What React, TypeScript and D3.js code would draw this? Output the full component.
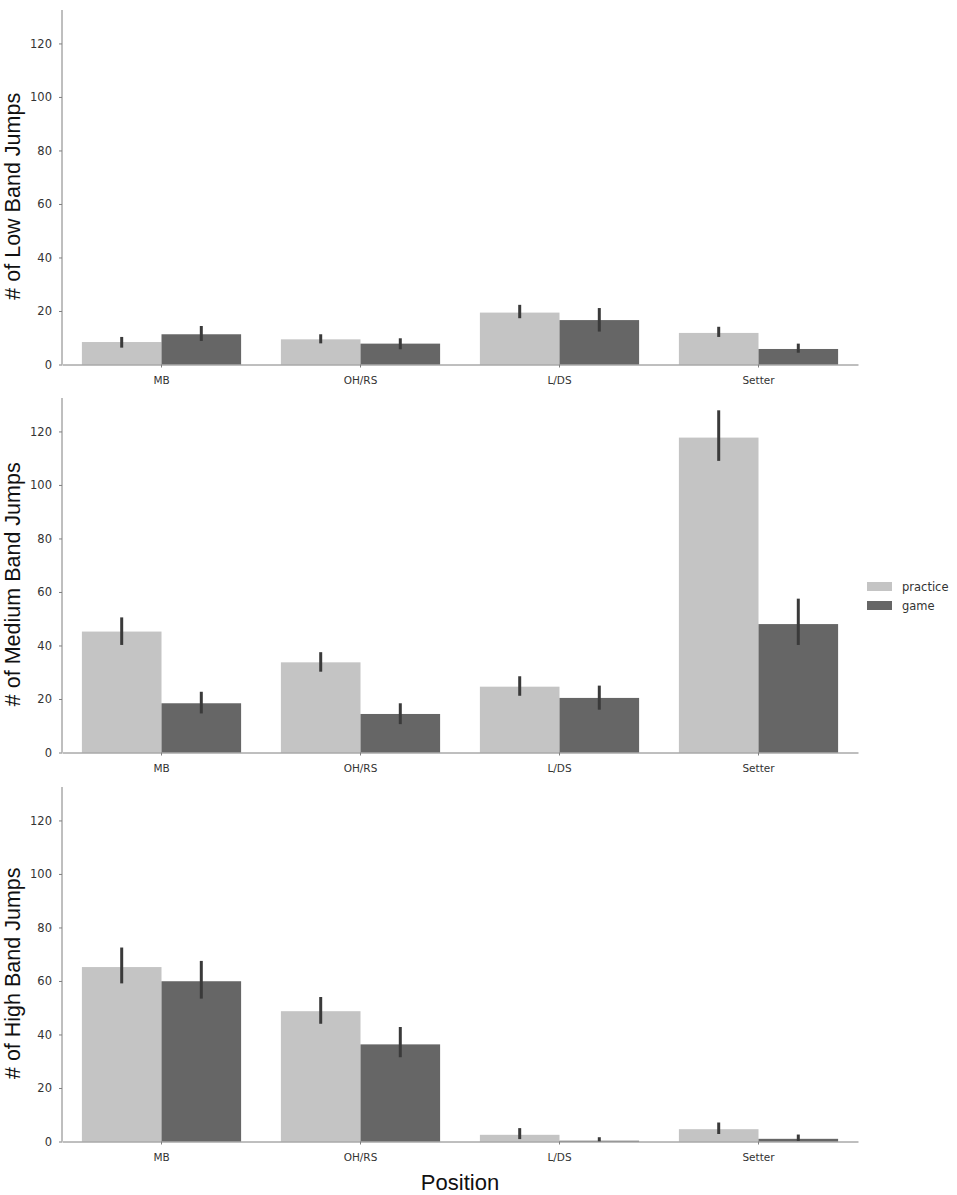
import { useEffect, useRef } from 'react';
import * as d3 from 'd3';

const positions = ['MB', 'OH/RS', 'L/DS', 'Setter'];
const hues = ['practice', 'game'];
const hueColors = ['#c4c4c4', '#666666'];
const yTicks = [0, 20, 40, 60, 80, 100, 120];

const lowPractice = [8.4, 9.4, 19.4, 11.8];
const lowGame = [11.3, 7.8, 16.6, 5.8];
const lowPracticeErr: [number, number][] = [[6.3, 10.3], [7.9, 11.3], [17.3, 22.3], [10.3, 14.1]];
const lowGameErr: [number, number][] = [[8.8, 14.4], [5.7, 9.8], [12.3, 21.1], [4.4, 7.8]];

const medPractice = [45.2, 33.7, 24.6, 117.7];
const medGame = [18.4, 14.4, 20.4, 48.0];
const medPracticeErr: [number, number][] = [[40.2, 50.5], [30.2, 37.5], [21.2, 28.5], [109.0, 127.9]];
const medGameErr: [number, number][] = [[14.6, 22.7], [10.6, 18.4], [16.0, 25.0], [40.2, 57.5]];

const highPractice = [65.2, 48.7, 2.5, 4.6];
const highGame = [59.9, 36.3, 0.3, 1.0];
const highPracticeErr: [number, number][] = [[59.1, 72.5], [44.0, 54.0], [0.9, 5.0], [2.8, 7.1]];
const highGameErr: [number, number][] = [[53.4, 67.5], [31.5, 42.8], [0, 1.6], [0.2, 2.6]];

const panels = [
  { label: '# of Low Band Jumps', top: 10, values: [lowPractice, lowGame], errs: [lowPracticeErr, lowGameErr] },
  { label: '# of Medium Band Jumps', top: 398, values: [medPractice, medGame], errs: [medPracticeErr, medGameErr] },
  { label: '# of High Band Jumps', top: 787, values: [highPractice, highGame], errs: [highPracticeErr, highGameErr] },
];

const WIDTH = 957;
const HEIGHT = 1195;

const App = () => {
  const svgRef = useRef<SVGSVGElement>(null);

  useEffect(() => {
    if (!svgRef.current) return;
    const svg = d3.select(svgRef.current);
    svg.selectAll('*').remove();

    const left = 62;
    const right = 858;
    const plotH = 354.5;
    const axisColor = '#7f7f7f';
    const tickFont = 'DejaVu Sans, sans-serif';

    const x = d3.scaleBand<string>().domain(positions).range([left, right]);
    const inner = d3.scaleBand<string>().domain(hues).range([0, x.bandwidth() * 0.8]);

    panels.forEach(p => {
      const y = d3.scaleLinear().domain([0, 132.5]).range([p.top + plotH, p.top]);
      const g = svg.append('g');

      // bars + error bars per hue
      hues.forEach((h, hi) => {
        const cx = (d: string) => (x(d) as number) + x.bandwidth() * 0.1 + (inner(h) as number);
        g.selectAll(`.bar-${hi}`)
          .data(positions)
          .enter()
          .append('rect')
          .attr('x', d => cx(d))
          .attr('width', inner.bandwidth())
          .attr('y', (d, i) => y(p.values[hi][i]))
          .attr('height', (d, i) => y(0) - y(p.values[hi][i]))
          .attr('fill', hueColors[hi]);

        g.selectAll(`.err-${hi}`)
          .data(positions)
          .enter()
          .append('line')
          .attr('x1', d => cx(d) + inner.bandwidth() / 2)
          .attr('x2', d => cx(d) + inner.bandwidth() / 2)
          .attr('y1', (d, i) => y(p.errs[hi][i][0]))
          .attr('y2', (d, i) => y(p.errs[hi][i][1]))
          .attr('stroke', '#3a3a3a')
          .attr('stroke-width', 3);
      });

      // y axis
      const yAxis = g.append('g')
        .attr('transform', `translate(${left},0)`)
        .call(d3.axisLeft(y).tickValues(yTicks).tickSize(3).tickPadding(7).tickSizeOuter(0));
      yAxis.select('.domain').attr('stroke', axisColor).attr('d', `M0,${p.top + plotH}V${p.top}`);
      yAxis.selectAll('.tick line').attr('stroke', axisColor);
      yAxis.selectAll('.tick text')
        .attr('fill', '#333')
        .style('font-family', tickFont)
        .style('font-size', '11.5px');

      // x axis
      const xAxis = g.append('g')
        .attr('transform', `translate(0,${p.top + plotH})`)
        .call(d3.axisBottom(x).tickSize(3).tickPadding(9).tickSizeOuter(0));
      xAxis.select('.domain').attr('stroke', axisColor);
      xAxis.selectAll('.tick line').attr('stroke', axisColor);
      xAxis.selectAll('.tick text')
        .attr('fill', '#333')
        .style('font-family', tickFont)
        .style('font-size', '10.5px');

      // y label
      svg.append('text')
        .attr('transform', `translate(20,${p.top + plotH / 2 + 9}) rotate(-90)`)
        .attr('text-anchor', 'middle')
        .style('font-family', 'Liberation Sans, Arial, sans-serif')
        .style('font-size', '21.5px')
        .attr('fill', '#111')
        .text(p.label);
    });

    // x label
    svg.append('text')
      .attr('x', (left + right) / 2)
      .attr('y', 1190)
      .attr('text-anchor', 'middle')
      .style('font-family', 'Liberation Sans, Arial, sans-serif')
      .style('font-size', '22px')
      .attr('fill', '#111')
      .text('Position');

    // legend
    const legend = svg.selectAll('.legend')
      .data(hues)
      .enter()
      .append('g')
      .attr('transform', (d, i) => `translate(867,${582 + i * 19})`);
    legend.append('rect')
      .attr('width', 25)
      .attr('height', 9)
      .attr('fill', (d, i) => hueColors[i]);
    legend.append('text')
      .attr('x', 35)
      .attr('y', 9)
      .style('font-family', tickFont)
      .style('font-size', '11.5px')
      .attr('fill', '#333')
      .text(d => d);
  }, []);

  return (
    <svg
      ref={svgRef}
      width={WIDTH}
      height={HEIGHT}
      style={{ position: 'absolute', left: 0, top: 0, background: '#fff' }}
    />
  );
};

export default App;
